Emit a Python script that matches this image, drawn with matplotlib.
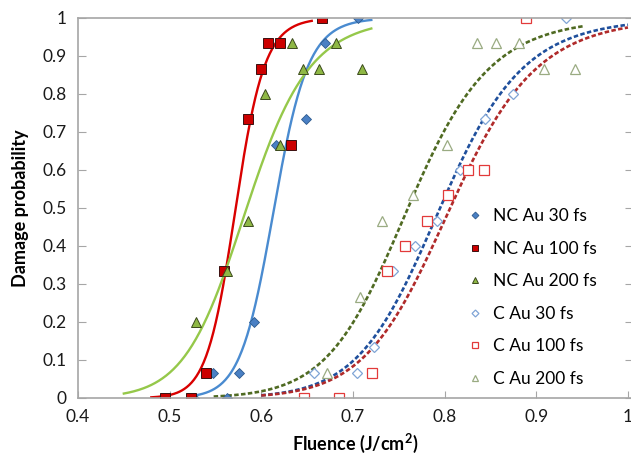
import matplotlib
matplotlib.use("Agg")
import matplotlib.pyplot as plt
from matplotlib.ticker import MultipleLocator, FormatStrFormatter
import numpy as np

# measured points (fluence J/cm2, damage probability)
nc30_x = [0.527, 0.547, 0.563, 0.576, 0.592, 0.616, 0.649, 0.669, 0.705]
nc30_y = [0, 0.067, 0, 0.067, 0.2, 0.667, 0.733, 0.933, 1.0]
nc100_x = [0.495, 0.523, 0.540, 0.559, 0.585, 0.600, 0.607, 0.620, 0.632, 0.666]
nc100_y = [0, 0, 0.067, 0.333, 0.733, 0.867, 0.933, 0.933, 0.667, 1.0]
nc200_x = [0.529, 0.563, 0.586, 0.604, 0.620, 0.633, 0.646, 0.663, 0.682, 0.710]
nc200_y = [0.2, 0.333, 0.467, 0.8, 0.667, 0.933, 0.867, 0.867, 0.933, 0.867]
c30_x = [0.657, 0.704, 0.723, 0.744, 0.768, 0.792, 0.817, 0.844, 0.875, 0.932]
c30_y = [0.067, 0.067, 0.133, 0.333, 0.4, 0.467, 0.6, 0.733, 0.8, 1.0]
c100_x = [0.647, 0.685, 0.721, 0.737, 0.757, 0.781, 0.804, 0.826, 0.843, 0.889]
c100_y = [0, 0, 0.067, 0.333, 0.4, 0.467, 0.533, 0.6, 0.6, 1.0]
c200_x = [0.672, 0.708, 0.732, 0.765, 0.803, 0.835, 0.856, 0.881, 0.908, 0.942]
c200_y = [0.067, 0.267, 0.467, 0.533, 0.667, 0.933, 0.933, 0.933, 0.867, 0.867]

# fit curves: P = 1/(1+(F50/F)^n), (F50, n, Fmin, Fmax)
nc30_fit = (0.614, 33, 0.522, 0.72)
nc100_fit = (0.572, 36, 0.48, 0.655)
nc200_fit = (0.584, 17, 0.45, 0.72)
c30_fit = (0.795, 17.5, 0.60, 1.0)
c100_fit = (0.806, 17, 0.60, 1.0)
c200_fit = (0.760, 17, 0.548, 0.953)

labels = ["NC Au 30 fs", "NC Au 100 fs", "NC Au 200 fs", "C Au 30 fs", "C Au 100 fs", "C Au 200 fs"]


def fit_curve(fit):
    f50, n, fmin, fmax = fit
    f = np.linspace(fmin, fmax, 200)
    return f, 1.0 / (1.0 + (f50 / f) ** n)


plt.rcParams['font.family'] = ['Lato', 'DejaVu Sans']
fig = plt.figure(figsize=(6.31, 4.57), dpi=100)
ax = fig.add_axes([78 / 631, 1 - 398 / 457, 555 / 631, 380 / 457])

# fit lines
ax.plot(*fit_curve(nc30_fit), color='#4a8bd0', lw=1.7)
ax.plot(*fit_curve(nc100_fit), color='#d90000', lw=1.7)
ax.plot(*fit_curve(nc200_fit), color='#95c84a', lw=1.7)
ax.plot(*fit_curve(c200_fit), color='#4f6a22', lw=1.9, dashes=(1.7, 0.9))
ax.plot(*fit_curve(c30_fit), color='#1f4f9c', lw=1.9, dashes=(1.7, 0.9))
ax.plot(*fit_curve(c100_fit), color='#b02a2a', lw=1.9, dashes=(1.7, 0.9))

# markers
ax.plot(nc30_x, nc30_y, 'D', ms=5, mfc='#4a80c4', mec='#2d5a8e', mew=0.6, ls='none', label=labels[0])
ax.plot(nc100_x, nc100_y, 's', ms=6.5, mfc='#cc0000', mec='#3a1010', mew=0.7, ls='none', label=labels[1])
ax.plot(nc200_x, nc200_y, '^', ms=7, mfc='#8fb845', mec='#3b4a1c', mew=0.7, ls='none', label=labels[2])
ax.plot(c30_x, c30_y, 'D', ms=5, mfc='white', mec='#7fa4d6', mew=0.9, ls='none', label=labels[3])
ax.plot(c100_x, c100_y, 's', ms=6.5, mfc='white', mec='#e23a3a', mew=0.9, ls='none', label=labels[4])
ax.plot(c200_x, c200_y, '^', ms=7, mfc='white', mec='#9aab82', mew=0.9, ls='none', label=labels[5])

ax.set_xlim(0.4, 1.0055)
ax.set_ylim(0, 1)
ax.xaxis.set_major_locator(MultipleLocator(0.1))
ax.yaxis.set_major_locator(MultipleLocator(0.1))
ax.xaxis.set_major_formatter(FormatStrFormatter('%g'))
ax.yaxis.set_major_formatter(FormatStrFormatter('%g'))

for s in ax.spines.values():
    s.set_color('#a6a6a6')
    s.set_linewidth(1.2)
ax.tick_params(direction='in', length=6, color='#a6a6a6', labelsize=12.5, labelcolor='#1a1a1a', right=True)
ax.tick_params(axis='x', length=5, pad=8)
ax.tick_params(axis='y', pad=8)

ax.set_xlabel('Fluence (J/cm$^\\mathregular{2}$)', fontsize=13, fontweight='bold', labelpad=5)
ax.set_ylabel('Damage probability', fontsize=13, fontweight='bold', labelpad=10)

leg = ax.legend(loc='upper left', bbox_to_anchor=(0.675, 0.54), frameon=False, fontsize=12.5,
                markerscale=0.7, handlelength=0.8, handletextpad=0.6, labelspacing=0.95)

fig.savefig('out.png', dpi=100)
